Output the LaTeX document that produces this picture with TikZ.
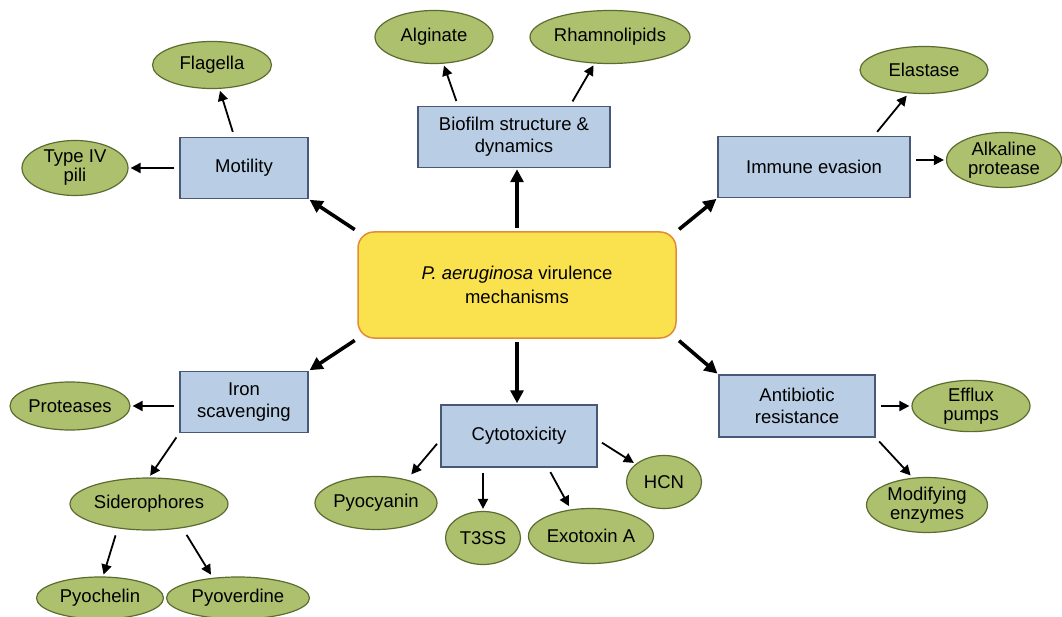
\documentclass[tikz,border=0pt]{standalone}
\usepackage{fontspec}
\setmainfont{Liberation Sans}
\usetikzlibrary{shapes.geometric,arrows.meta}

\definecolor{boxblue}{RGB}{185,205,228}
\definecolor{boxline}{RGB}{72,88,118}
\definecolor{ellgreen}{RGB}{172,192,110}
\definecolor{ellline}{RGB}{92,108,48}
\definecolor{coreyellow}{RGB}{250,226,78}
\definecolor{coreline}{RGB}{226,140,52}

\tikzstyle{core}=[rectangle, rounded corners=16pt, draw=coreline, fill=coreyellow, line width=1.5pt, align=center]
\tikzstyle{mech}=[rectangle, draw=boxline, fill=boxblue, line width=1.5pt, align=center, inner sep=0pt]
\tikzstyle{fact}=[ellipse, draw=ellline, fill=ellgreen, line width=1.2pt, align=center, inner sep=0pt]
\tikzstyle{bigarr}=[line width=3.6pt, -{Triangle[length=13pt,width=13pt]}, shorten <=3pt, shorten >=1pt]
\tikzstyle{arr}=[line width=1.8pt, -{Triangle[length=10pt,width=10pt]}, shorten <=5pt, shorten >=2pt]

\begin{document}
\begin{tikzpicture}[x=1pt, y=-1pt, font=\fontsize{18.5}{22}\selectfont]

\path[use as bounding box, fill=white] (0,0) rectangle (1062,617);

\node[core, minimum width=318pt, minimum height=106pt, font=\fontsize{18.5}{24}\selectfont] (c0) at (517,285) {\textit{P. aeruginosa} virulence\\mechanisms};

\node[mech, minimum width=128pt, minimum height=61pt] (b1) at (244,168) {Motility};
\node[fact, minimum width=119pt, minimum height=47pt] (e1) at (212,65) {Flagella};
\node[fact, minimum width=106pt, minimum height=55pt, font=\fontsize{18.5}{19}\selectfont] (e2) at (75,168) {Type IV\\pili};

\node[mech, minimum width=192pt, minimum height=61pt] (b2) at (514,137) {Biofilm structure \&\\dynamics};
\node[fact, minimum width=118pt, minimum height=53pt] (e3) at (434,37) {Alginate};
\node[fact, minimum width=160pt, minimum height=53pt] (e4) at (610,37) {Rhamnolipids};

\node[mech, minimum width=192pt, minimum height=61pt] (b3) at (814,167) {Immune evasion};
\node[fact, minimum width=128pt, minimum height=47pt] (e5) at (924,70) {Elastase};
\node[fact, minimum width=115pt, minimum height=55pt, font=\fontsize{18.5}{19}\selectfont] (e6) at (1004,160) {Alkaline\\protease};

\node[mech, minimum width=128pt, minimum height=61pt] (b4) at (244,402) {Iron\\scavenging};
\node[fact, minimum width=120pt, minimum height=48pt] (e7) at (70,406) {Proteases};
\node[fact, minimum width=158pt, minimum height=52pt] (e8) at (149,504) {Siderophores};
\node[fact, minimum width=127pt, minimum height=42pt] (e9) at (100,598) {Pyochelin};
\node[fact, minimum width=143pt, minimum height=42pt] (e10) at (238,598) {Pyoverdine};

\node[mech, minimum width=156pt, minimum height=62pt] (b5) at (519,436) {Cytotoxicity};
\node[fact, minimum width=122pt, minimum height=53pt] (e11) at (376,503) {Pyocyanin};
\node[fact, minimum width=75pt, minimum height=53pt] (e12) at (483,538) {T3SS};
\node[fact, minimum width=112pt, minimum height=55pt] (e13) at (591,536) {Exotoxin A};
\node[fact, minimum width=75pt, minimum height=53pt] (e14) at (664,482) {HCN};

\node[mech, minimum width=156pt, minimum height=62pt] (b6) at (797,406) {Antibiotic\\resistance};
\node[fact, minimum width=118pt, minimum height=51pt, font=\fontsize{18.5}{19}\selectfont] (e15) at (971,406) {Efflux\\pumps};
\node[fact, minimum width=121pt, minimum height=55pt, font=\fontsize{18.5}{19}\selectfont] (e16) at (927,505) {Modifying\\enzymes};

% from the centre to the six mechanisms
\draw[bigarr] (c0.north west) -- (b1.south east);
\draw[bigarr] (c0.north) -- (c0.north |- b2.south);
\draw[bigarr] (c0.north east) -- (b3.south west);
\draw[bigarr] (c0.south west) -- (b4.north east);
\draw[bigarr] (c0.south) -- (c0.south |- b5.north);
\draw[bigarr] (c0.south east) -- (b6.north west);

\draw[arr] (b1) -- (e1);
\draw[arr] (b1.west) -- (e2.east);

\draw[arr] ([xshift=-56pt]b2.north) -- (e3);
\draw[arr] ([xshift=56pt]b2.north) -- (e4);

\draw[arr] ([xshift=60pt]b3.north) -- ([xshift=-16pt]e5.south);
\draw[arr] ([yshift=7pt]b3.east) -- (e6.west);

\draw[arr] ([yshift=-4pt]b4.west) -- (e7.east);
\draw[arr] (b4.south west) -- (e8.north);
\draw[arr] ([xshift=-32pt]e8.south) -- ([xshift=3pt]e9.north);
\draw[arr] ([xshift=35pt]e8.south) -- ([xshift=-26pt]e10.north);

\draw[arr] ([yshift=-4pt]b5.west) -- ([xshift=34pt]e11.north);
\draw[arr] ([xshift=-36pt]b5.south) -- (e12.north);
\draw[arr] ([xshift=29pt]b5.south) -- ([xshift=-21pt]e13.north);
\draw[arr] ([yshift=-4pt]b5.east) -- (e14);

\draw[arr] (b6.east) -- (e15.west);
\draw[arr] (b6.south east) -- ([xshift=-15pt]e16.north);

\end{tikzpicture}
\end{document}
